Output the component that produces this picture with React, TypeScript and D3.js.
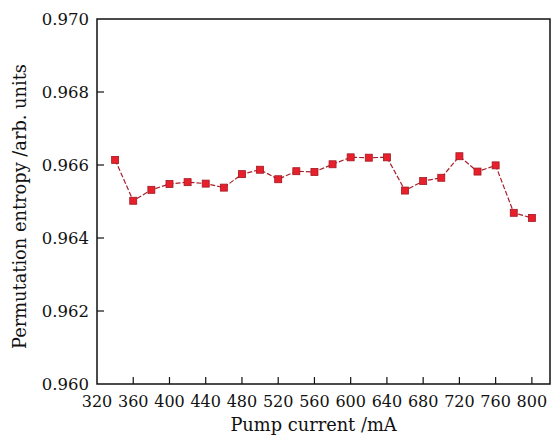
import React from "react";
import * as d3 from "d3";

// Pump current (mA) and permutation entropy (arb. units)
const current = [340, 360, 380, 400, 420, 440, 460, 480, 500, 520, 540, 560, 580, 600, 620, 640, 660, 680, 700, 720, 740, 760, 780, 800];
const entropy = [0.96614, 0.96502, 0.96532, 0.96548, 0.96553, 0.96549, 0.96538, 0.96575, 0.96587, 0.96561, 0.96583, 0.96581, 0.96602, 0.96621, 0.96620, 0.96621, 0.9653, 0.96556, 0.96565, 0.96624, 0.96582, 0.96599, 0.96469, 0.96455];
const xTicks = [320, 360, 400, 440, 480, 520, 560, 600, 640, 680, 720, 760, 800];
const yTicks = [0.96, 0.962, 0.964, 0.966, 0.968, 0.97];

const W = 552, H = 437;
const left = 97, right = 550, top = 19, bottom = 384;
const font = "'DejaVu Serif', serif";

export default function App() {
  const x = d3.scaleLinear().domain([320, 820]).range([left, right]);
  const y = d3.scaleLinear().domain([0.96, 0.97]).range([bottom, top]);
  const pts = current.map((c, i) => [x(c), y(entropy[i])] as [number, number]);
  const line = d3.line()(pts) ?? "";

  return (
    <svg width={W} height={H} style={{ position: "absolute", left: 0, top: 0, background: "#fff" }}>
      <rect x={left} y={top} width={right - left} height={bottom - top} fill="none" stroke="#111" strokeWidth={1.5} />
      {xTicks.map((t) => (
        <g key={"x" + t}>
          {t > 320 && <line x1={x(t)} x2={x(t)} y1={bottom} y2={bottom - 7} stroke="#111" strokeWidth={1.2} />}
          <text x={x(t)} y={407} textAnchor="middle" fontFamily={font} fontSize={16} fill="#111">{t}</text>
        </g>
      ))}
      {yTicks.map((t) => (
        <g key={"y" + t}>
          {t > 0.96 && t < 0.97 && <line x1={left} x2={left + 7} y1={y(t)} y2={y(t)} stroke="#111" strokeWidth={1.2} />}
          <text x={89} y={y(t) + 6} textAnchor="end" fontFamily={font} fontSize={16.5} fill="#111">{d3.format(".3f")(t)}</text>
        </g>
      ))}
      <path d={line} fill="none" stroke="#a8202c" strokeWidth={1.2} strokeDasharray="5 2" />
      {pts.map(([px, py], i) => (
        <rect key={i} x={px - 3.5} y={py - 3.5} width={7} height={7} fill="#e8202c" stroke="#a01822" strokeWidth={0.8} />
      ))}
      <text x={313.5} y={431} textAnchor="middle" fontFamily={font} fontSize={17.8} fill="#111">Pump current /mA</text>
      <text transform={`translate(26,${206.5}) rotate(-90)`} textAnchor="middle" fontFamily={font} fontSize={17.8} fill="#111">Permutation entropy /arb. units</text>
    </svg>
  );
}
